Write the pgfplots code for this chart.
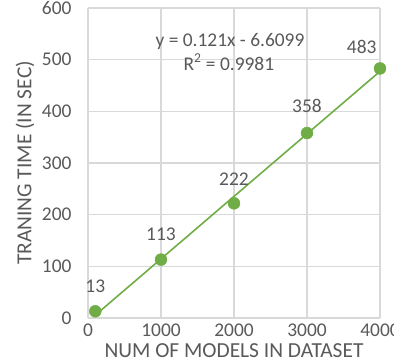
\documentclass[border=0pt]{standalone}
\usepackage{pgfplots}
\pgfplotsset{compat=1.18}
\usepackage{fontspec}
\setmainfont{Carlito}
\definecolor{tgreen}{HTML}{70AD47}
\definecolor{ttext}{HTML}{595959}
\definecolor{tgrid}{HTML}{D9D9D9}
\begin{document}
\begin{tikzpicture}
\begin{axis}[
  at={(0,0)}, anchor=south west,
  scale only axis, width=292bp, height=310bp,
  xmin=0, xmax=4000, ymin=0, ymax=600,
  xtick={0,1000,2000,3000,4000},
  ytick={0,100,200,300,400,500,600},
  grid=major,
  major grid style={draw=tgrid, line width=1.2bp},
  axis line style={draw=none},
  major tick length=0pt,
  tick label style={text=ttext, font=\fontsize{19.5}{22}\selectfont},
  /pgf/number format/assume math mode=true,
  /pgf/number format/1000 sep={},
  yticklabel style={anchor=east, xshift=-13bp},
  xticklabel style={anchor=center, yshift=-12bp},
  xlabel={NUM OF MODELS IN DATASET},
  ylabel={TRANING TIME (IN SEC)},
  label style={text=ttext, font=\fontsize{21.5}{24}\selectfont},
  xlabel style={at={(axis description cs:0.5,-0.104)}, anchor=center},
  ylabel style={at={(axis description cs:-0.216,0.5)}, anchor=center},
  clip=false,
]
\addplot[tgreen, line width=1.6bp] coordinates {(100,5.4901) (4000,477.39)};
\addplot[only marks, mark=*, mark size=6bp, draw=tgreen, fill=tgreen] coordinates {
  (100,13) (1000,113) (2000,222) (3000,358) (4000,483)};
\begin{scope}[every node/.style={text=ttext, font=\fontsize{19.5}{22}\selectfont}]
\node at (axis cs:100,62) {13};
\node at (axis cs:1000,163) {113};
\node at (axis cs:2000,268) {222};
\node at (axis cs:3000,410) {358};
\node at (axis cs:3750,524) {483};
\node at (axis cs:1945,536) {y = 0.121x - 6.6099};
\node at (axis cs:1930,495) {R\textsuperscript{2} = 0.9981};
\end{scope}
\end{axis}
\pgfresetboundingbox
\path[use as bounding box] (-88bp,-44bp) rectangle (306bp,318bp);
\end{tikzpicture}
\end{document}
